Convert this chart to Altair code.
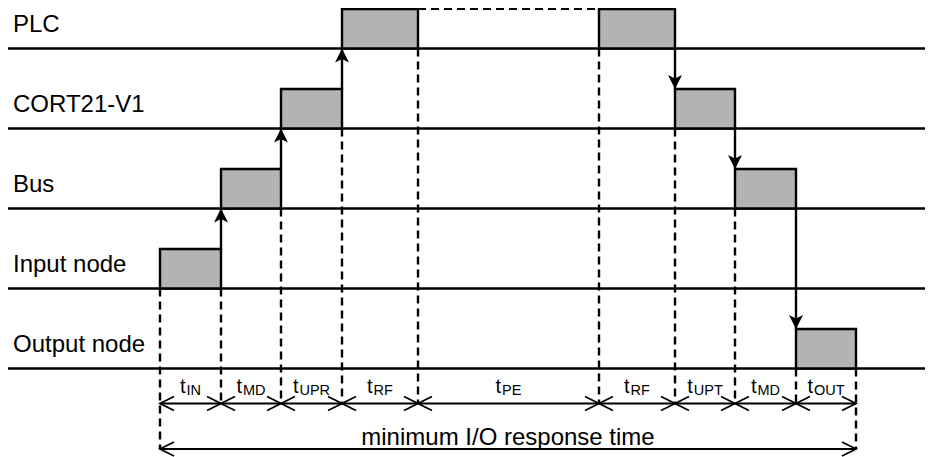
import altair as alt
import pandas as pd

# ---------------- data ----------------
lanes = ["PLC", "CORT21-V1", "Bus", "Input node", "Output node"]
phase_subs = ["IN", "MD", "UPR", "RF", "PE", "RF", "UPT", "MD", "OUT"]
phase_durations = [61, 60, 61, 76, 181, 76, 60, 61, 60]
phase_lanes = ["Input node", "Bus", "CORT21-V1", "PLC", None,
               "PLC", "CORT21-V1", "Bus", "Output node"]
total_label = "minimum I/O response time"

# ---------------- layout ----------------
W, H = 917, 449
LANE_PX = 80.0
LANE0_PX = 40.5          # chart px of the first lane baseline
X0 = 152                 # chart px of time 0
BLOCK_H = 39.5 / LANE_PX
DIM_Y = 355.0 / LANE_PX
BOT_Y = 400.5 / LANE_PX
FONT = "Liberation Sans"
GREY = "#b3b3b3"
LW = 2.4

xscale = alt.Scale(domain=[-X0, W - X0], nice=False, zero=False)
yscale = alt.Scale(domain=[-LANE0_PX / LANE_PX, (H - LANE0_PX) / LANE_PX],
                   reverse=True, nice=False, zero=False)

li = {n: i for i, n in enumerate(lanes)}
bounds = [0]
for d in phase_durations:
    bounds.append(bounds[-1] + d)
n_b = len(bounds)

# blocks
blocks = pd.DataFrame([
    {"x": bounds[i], "x2": bounds[i + 1], "y": li[l], "y2": li[l] - BLOCK_H}
    for i, l in enumerate(phase_lanes) if l is not None
])

# lane lines
lane_lines = pd.DataFrame([{"x": -X0 - 1, "x2": W - X0 + 20, "y": li[n], "y2": li[n]} for n in lanes])

# vertical dashed boundaries
vd = []
for j, b in enumerate(bounds):
    adj = []
    if j - 1 >= 0 and phase_lanes[j - 1] is not None:
        adj.append(li[phase_lanes[j - 1]])
    if j < len(phase_lanes) and phase_lanes[j] is not None:
        adj.append(li[phase_lanes[j]])
    start = max(adj)
    end = BOT_Y if (j == 0 or j == n_b - 1) else DIM_Y
    vd.append({"x": b, "x2": b, "y": start, "y2": end})
vdash = pd.DataFrame(vd)

# top dashed (PLC idle during t_PE)
pe_i = phase_lanes.index(None)
top_dash = pd.DataFrame([{"x": bounds[pe_i], "x2": bounds[pe_i + 1],
                          "y": li["PLC"] - BLOCK_H, "y2": li["PLC"] - BLOCK_H}])

# signal arrows
UP = "M0,0L1,2L0,1.5L-1,2Z"
DOWN = "M0,0L1,-2L0,-1.5L-1,-2Z"
sig, heads = [], []
for i in range(len(phase_lanes) - 1):
    a, b = phase_lanes[i], phase_lanes[i + 1]
    if a is None or b is None:
        continue
    cur, nxt = li[a], li[b]
    x = bounds[i + 1]
    if nxt < cur:
        y1, y2, shp = cur - BLOCK_H, nxt, UP
    else:
        y1, y2, shp = cur, nxt - BLOCK_H, DOWN
    sig.append({"x": x, "x2": x, "y": y1, "y2": y2})
    heads.append({"x": x, "y": y2, "shape": shp})
sig = pd.DataFrame(sig)
heads = pd.DataFrame(heads)

# dimension lines
LEFT = "M1,-0.5L0,0L1,0.5"
RIGHT = "M-1,-0.5L0,0L-1,0.5"
dim_lines = pd.DataFrame([
    {"x": bounds[0], "x2": bounds[-1], "y": DIM_Y, "y2": DIM_Y},
    {"x": bounds[0], "x2": bounds[-1], "y": BOT_Y, "y2": BOT_Y},
])
chev = []
for j, b in enumerate(bounds):
    if j < n_b - 1:
        chev.append({"x": b, "y": DIM_Y, "shape": LEFT})
    if j > 0:
        chev.append({"x": b, "y": DIM_Y, "shape": RIGHT})
chev.append({"x": bounds[0], "y": BOT_Y, "shape": LEFT})
chev.append({"x": bounds[-1], "y": BOT_Y, "shape": RIGHT})
chev = pd.DataFrame(chev)

# labels
ARIAL = {"I": 278, "N": 722, "M": 833, "D": 722, "U": 722, "P": 667,
         "R": 722, "F": 611, "E": 667, "T": 611, "O": 778}
T_FS, SUB_FS, T_GAP = 20, 14.5, 6.5
t_rows, s_rows = [], []
for i, s in enumerate(phase_subs):
    w = T_GAP + sum(ARIAL[c] for c in s) * SUB_FS / 1000.0
    c = (bounds[i] + bounds[i + 1]) / 2.0
    tx = c - w / 2.0
    t_rows.append({"x": tx, "y": 344.5 / LANE_PX, "text": "t"})
    s_rows.append({"x": tx + T_GAP, "y": 346.0 / LANE_PX, "text": s})
t_df = pd.DataFrame(t_rows)
s_df = pd.DataFrame(s_rows)

row_labels = pd.DataFrame([{"x": -147, "y": li[n] - 16.5 / LANE_PX, "text": n} for n in lanes])
total_df = pd.DataFrame([{"x": bounds[-1] / 2.0, "y": 396.5 / LANE_PX, "text": total_label}])


def X(f="x"):
    return alt.X(f"{f}:Q", scale=xscale, axis=None)


def Y(f="y"):
    return alt.Y(f"{f}:Q", scale=yscale, axis=None)


def rules(df, width=LW, dash=None):
    kw = dict(color="black", strokeWidth=width, clip=False)
    if dash:
        kw["strokeDash"] = dash
    return alt.Chart(df).mark_rule(**kw).encode(
        x=X(), x2="x2:Q", y=Y(), y2="y2:Q")


layers = [
    rules(lane_lines, LW),
    rules(vdash, LW, [8, 5]),
    rules(top_dash, 1.8, [8, 5]),
    alt.Chart(blocks).mark_rect(fill=GREY, stroke="black", strokeWidth=LW, clip=False).encode(
        x=X(), x2="x2:Q", y=Y(), y2="y2:Q"),
    rules(sig, LW),
    alt.Chart(heads).mark_point(filled=True, color="black", opacity=1, size=196,
                                strokeWidth=0, clip=False).encode(
        x=X(), y=Y(), shape=alt.Shape("shape:N", scale=None, legend=None)),
    rules(dim_lines, 1.8),
    alt.Chart(chev).mark_point(filled=False, color="black", opacity=1, size=784,
                               strokeWidth=1.8, clip=False).encode(
        x=X(), y=Y(), shape=alt.Shape("shape:N", scale=None, legend=None)),
    alt.Chart(row_labels).mark_text(font=FONT, fontSize=24, align="left",
                                    baseline="alphabetic", color="black").encode(
        x=X(), y=Y(), text="text:N"),
    alt.Chart(t_df).mark_text(font=FONT, fontSize=T_FS, align="left",
                              baseline="alphabetic", color="black").encode(
        x=X(), y=Y(), text="text:N"),
    alt.Chart(s_df).mark_text(font=FONT, fontSize=SUB_FS, align="left",
                              baseline="alphabetic", color="black").encode(
        x=X(), y=Y(), text="text:N"),
    alt.Chart(total_df).mark_text(font=FONT, fontSize=24, align="center",
                                  baseline="alphabetic", color="black").encode(
        x=X(), y=Y(), text="text:N"),
]

chart = alt.layer(*layers).properties(
    width=W, height=H, padding=0,
    autosize=alt.AutoSizeParams(type="none"),
    background="white",
).configure_view(stroke=None)

chart.save("out.html", embed_options={"renderer": "svg", "actions": False})
